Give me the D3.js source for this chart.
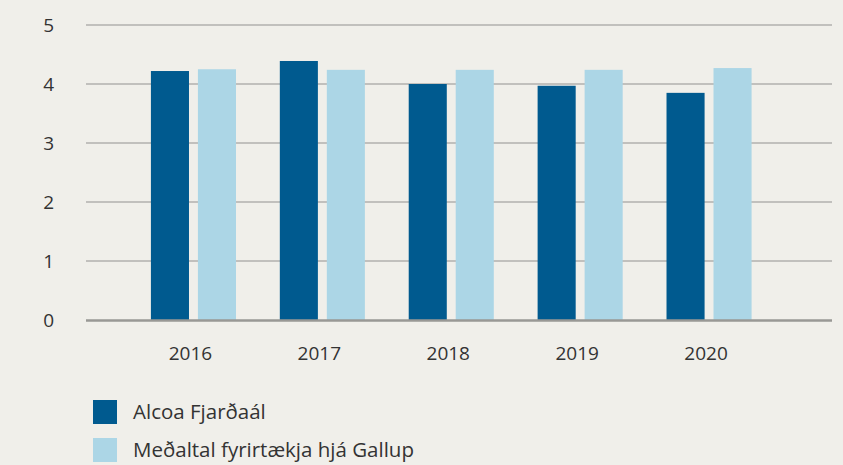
<!DOCTYPE html>
<html>
<head>
<meta charset="utf-8">
<script src="https://cdn.jsdelivr.net/npm/d3@7"></script>
<style>
  html, body { margin: 0; padding: 0; background: #f0efea; }
  svg { display: block; font-family: "Open Sans", sans-serif; }
</style>
</head>
<body>
<div id="chart"></div>
<script>
const years = ["2016", "2017", "2018", "2019", "2020"];
const seriesNames = ["Alcoa Fjarðaál", "Meðaltal fyrirtækja hjá Gallup"];
const alcoaValues = [4.22, 4.39, 4.00, 3.97, 3.85];
const gallupValues = [4.25, 4.24, 4.24, 4.24, 4.27];
const yTicks = [0, 1, 2, 3, 4, 5];
const colors = ["#005a8f", "#acd6e6"];

const W = 843, H = 465;
const plot = { left: 86, right: 832, top: 25, bottom: 320 };

const svg = d3.select("#chart").append("svg")
    .attr("width", W)
    .attr("height", H);

svg.append("rect").attr("width", W).attr("height", H).attr("fill", "#f0efea");

const y = d3.scaleLinear().domain([0, 5]).range([plot.bottom, plot.top]);

// groups sit a bit left of the full grid width
const x = d3.scaleBand()
    .domain(years)
    .range([129, 773.5])
    .paddingInner(0.34)
    .paddingOuter(0.17);

const xSub = d3.scaleBand()
    .domain(seriesNames)
    .range([0, x.bandwidth()])
    .paddingInner(0.19);

// gridlines
svg.append("g")
    .selectAll("line")
    .data(yTicks.filter(d => d > 0))
    .enter().append("line")
    .attr("x1", plot.left)
    .attr("x2", plot.right)
    .attr("y1", d => y(d))
    .attr("y2", d => y(d))
    .attr("stroke", "#b2b1ae")
    .attr("stroke-width", 1.5);

const data = [];
years.forEach((yr, i) => {
    data.push({ year: yr, series: seriesNames[0], value: alcoaValues[i] });
    data.push({ year: yr, series: seriesNames[1], value: gallupValues[i] });
});

svg.append("g")
    .selectAll("rect")
    .data(data)
    .enter().append("rect")
    .attr("x", d => x(d.year) + xSub(d.series))
    .attr("y", d => y(d.value))
    .attr("width", xSub.bandwidth())
    .attr("height", d => y(0) - y(d.value))
    .attr("fill", d => colors[seriesNames.indexOf(d.series)]);

// baseline
svg.append("line")
    .attr("x1", plot.left)
    .attr("x2", plot.right)
    .attr("y1", y(0) + 0.5)
    .attr("y2", y(0) + 0.5)
    .attr("stroke", "#999895")
    .attr("stroke-width", 2.5);

// y labels
svg.append("g")
    .selectAll("text")
    .data(yTicks)
    .enter().append("text")
    .attr("x", 54)
    .attr("y", d => y(d))
    .attr("dy", "0.36em")
    .attr("text-anchor", "end")
    .attr("font-size", "19px")
    .attr("fill", "#333")
    .text(d => d);

// x labels
svg.append("g")
    .selectAll("text")
    .data(years)
    .enter().append("text")
    .attr("x", d => x(d) + x.bandwidth() / 2 - 3)
    .attr("y", 360)
    .attr("text-anchor", "middle")
    .attr("font-size", "19px")
    .attr("fill", "#333")
    .text(d => d);

// legend
const legend = svg.append("g").attr("transform", "translate(93,400)");
seriesNames.forEach((name, i) => {
    const row = legend.append("g").attr("transform", `translate(0,${i * 38})`);
    row.append("rect")
        .attr("width", 24)
        .attr("height", 24)
        .attr("fill", colors[i]);
    row.append("text")
        .attr("x", 40)
        .attr("y", 19)
        .attr("font-size", "20.5px")
        .attr("fill", "#333")
        .text(name);
});
</script>
</body>
</html>
